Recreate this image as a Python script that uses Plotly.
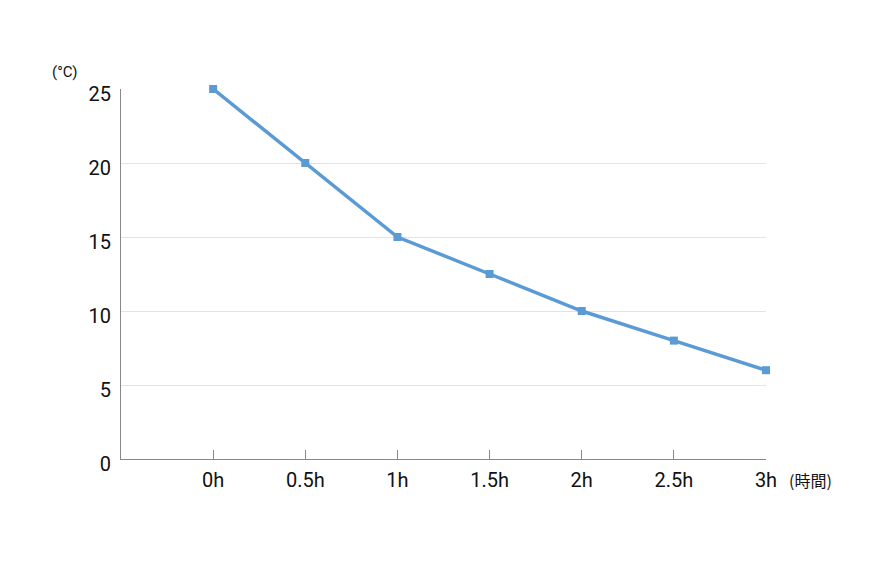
import plotly.graph_objects as go

categories = ["0h", "0.5h", "1h", "1.5h", "2h", "2.5h", "3h"]
temps = [25, 20, 15, 12.5, 10, 8, 6]
y_ticks = [0, 5, 10, 15, 20, 25]

xpos = list(range(len(categories)))

fig = go.Figure()
fig.add_trace(go.Scatter(
    x=xpos, y=temps, mode="lines+markers",
    line=dict(color="#5b9bd5", width=3.5),
    marker=dict(symbol="square", size=8, color="#5b9bd5"),
    cliponaxis=False, showlegend=False,
))

fig.update_layout(
    width=890, height=567,
    margin=dict(l=113, r=132, t=81, b=116, autoexpand=False),
    plot_bgcolor="white", paper_bgcolor="white",
    font=dict(family="Roboto", size=20, color="#111"),
    xaxis=dict(
        range=[-1, len(categories) - 1],
        tickvals=xpos, ticktext=categories,
        showgrid=False, zeroline=False, automargin=False,
        showline=True, linecolor="#888", linewidth=1,
        ticks="inside", ticklen=9, tickcolor="#888", tickwidth=1,
        ticklabelstandoff=3,
    ),
    yaxis=dict(
        range=[0, 25], tickvals=y_ticks, automargin=False,
        showgrid=True, gridcolor="#e3e3e3", gridwidth=1,
        zeroline=False, showline=True, linecolor="#888", linewidth=1,
        ticks="", ticklabelstandoff=5, ticklabelshift=5,
    ),
    annotations=[
        dict(text="(°C)", xref="paper", yref="paper", x=-0.0868, y=1.046,
             xanchor="center", yanchor="middle", showarrow=False,
             font=dict(size=15, color="#111")),
        dict(text="(時間)", xref="paper", yref="paper", x=1.033, y=-0.0568,
             xanchor="left", yanchor="middle", showarrow=False,
             font=dict(size=16, color="#111", family="Noto Sans CJK JP")),
    ],
)

fig.write_html("out.html")
